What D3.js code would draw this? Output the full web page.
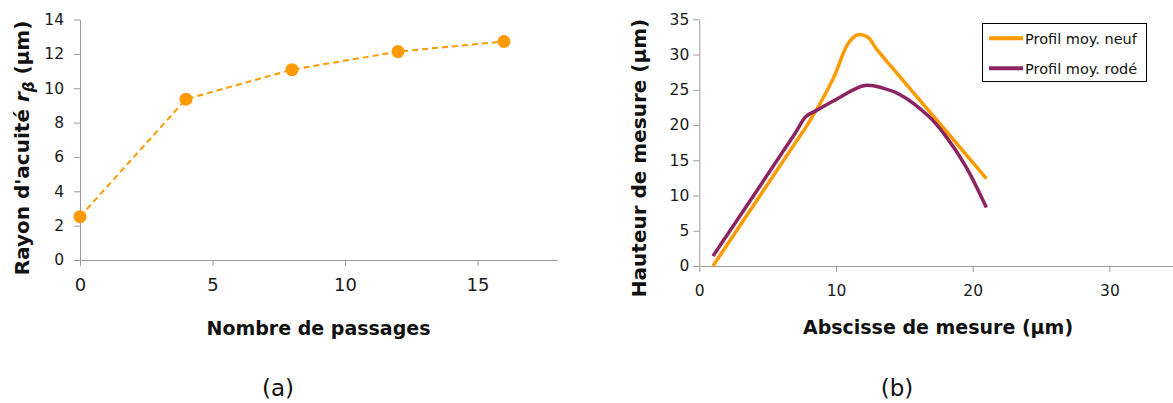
<!DOCTYPE html>
<html>
<head>
<meta charset="utf-8">
<script src="https://cdn.jsdelivr.net/npm/d3@7"></script>
<style>
  html, body { margin: 0; padding: 0; background: #fff; }
  svg { display: block; }
</style>
</head>
<body>
<svg id="chart" width="1173" height="403"></svg>
<script>
// ---- Data (a) ----
const passages = [0, 4, 8, 12, 16];
const rayon = [2.52, 9.36, 11.08, 12.13, 12.72];
const xTicksA = [0, 5, 10, 15];
const yTicksA = [0, 2, 4, 6, 8, 10, 12, 14];

// ---- Data (b) ----
const neufX = [1, 2, 7, 8, 9.8, 10.9, 11.6, 12.3, 13, 14, 17.5, 20, 21];
const neufY = [0, 2.9, 17.4, 20.3, 26.6, 31.6, 32.8, 32.5, 30.7, 28.4, 20.4, 14.7, 12.4];
const rodeX = [1, 2, 7, 7.8, 8.6, 9.8, 12.1, 13.5, 14.7, 16.8, 18, 19.5, 21];
const rodeY = [1.4, 4.3, 18.8, 21.2, 22.1, 23.4, 25.6, 25.2, 24.3, 21.2, 18.5, 14.1, 8.3];
const xTicksB = [0, 10, 20, 30];
const yTicksB = [0, 5, 10, 15, 20, 25, 30, 35];
const seriesNames = ["Profil moy. neuf", "Profil moy. rodé"];

const ORANGE = "#ff9a00";
const PURPLE = "#8c2461";
const AXIS = "#9a9a9a";
const FONT = "'DejaVu Sans', sans-serif";

const svg = d3.select("#chart");

function styleAxis(g, fs) {
  g.select(".domain").attr("stroke", AXIS).attr("stroke-width", 1);
  g.selectAll(".tick line").attr("stroke", AXIS).attr("stroke-width", 1);
  g.selectAll(".tick text").attr("font-family", FONT).attr("font-size", fs).attr("fill", "#1a1a1a");
}

// ================= Chart (a) =================
const xA = d3.scaleLinear().domain([0, 18]).range([80, 557]);
const yA = d3.scaleLinear().domain([0, 14]).range([260, 19.5]);

const gxA = svg.append("g").attr("transform", `translate(0,${yA(0)})`)
  .call(d3.axisBottom(xA).tickValues(xTicksA).tickFormat(d3.format("d")).tickSize(6).tickSizeOuter(0).tickPadding(12));
styleAxis(gxA, 18);
const gyA = svg.append("g").attr("transform", `translate(${xA(0)},0)`)
  .call(d3.axisLeft(yA).tickValues(yTicksA).tickFormat(d3.format("d")).tickSize(6).tickSizeOuter(0).tickPadding(10));
styleAxis(gyA, 15.5);

const ptsA = passages.map((p, i) => [p, rayon[i]]);
svg.append("path")
  .datum(ptsA)
  .attr("fill", "none")
  .attr("stroke", ORANGE)
  .attr("stroke-width", 2)
  .attr("stroke-dasharray", "6,4")
  .attr("d", d3.line().x(d => xA(d[0])).y(d => yA(d[1])));
svg.append("g").selectAll("circle").data(ptsA).join("circle")
  .attr("cx", d => xA(d[0])).attr("cy", d => yA(d[1])).attr("r", 6.5)
  .attr("fill", ORANGE);

svg.append("text")
  .attr("x", (xA(0) + xA(18)) / 2).attr("y", 335)
  .attr("text-anchor", "middle").attr("font-family", FONT).attr("font-weight", "bold")
  .attr("font-size", 19).attr("fill", "#111")
  .text("Nombre de passages");

const tA = svg.append("text")
  .attr("transform", `translate(28.5,148) rotate(-90)`)
  .attr("text-anchor", "middle").attr("font-family", FONT).attr("font-weight", "bold")
  .attr("font-size", 20).attr("fill", "#111");
tA.append("tspan").text("Rayon d'acuité ");
tA.append("tspan").attr("font-style", "italic").text("r");
tA.append("tspan").attr("font-style", "italic").attr("font-size", 15).attr("dy", 5).text("β");
tA.append("tspan").attr("dy", -5).text(" (μm)");

svg.append("text")
  .attr("x", 278).attr("y", 396)
  .attr("text-anchor", "middle").attr("font-family", FONT)
  .attr("font-size", 23).attr("fill", "#111")
  .text("(a)");

// ================= Chart (b) =================
const xB = d3.scaleLinear().domain([0, 35]).range([699.3, 699.3 + 35 * 13.67]);
const yB = d3.scaleLinear().domain([0, 35]).range([266, 19.3]);

const gxB = svg.append("g").attr("transform", `translate(0,${yB(0)})`)
  .call(d3.axisBottom(xB).tickValues(xTicksB).tickFormat(d3.format("d")).tickSize(6).tickSizeOuter(0).tickPadding(13));
styleAxis(gxB, 15.5);
const gyB = svg.append("g").attr("transform", `translate(${xB(0)},0)`)
  .call(d3.axisLeft(yB).tickValues(yTicksB).tickFormat(d3.format("d")).tickSize(6).tickSizeOuter(0).tickPadding(4));
styleAxis(gyB, 15.5);

const lineB = d3.line().x(d => xB(d[0])).y(d => yB(d[1])).curve(d3.curveCatmullRom.alpha(0.5));
const neuf = neufX.map((x, i) => [x, neufY[i]]);
const rode = rodeX.map((x, i) => [x, rodeY[i]]);
svg.append("path").datum(neuf).attr("fill", "none").attr("stroke", ORANGE)
  .attr("stroke-width", 3.5).attr("stroke-linejoin", "round").attr("d", lineB);
svg.append("path").datum(rode).attr("fill", "none").attr("stroke", PURPLE)
  .attr("stroke-width", 3.5).attr("stroke-linejoin", "round").attr("d", lineB);

svg.append("text")
  .attr("x", 938).attr("y", 333.5)
  .attr("text-anchor", "middle").attr("font-family", FONT).attr("font-weight", "bold")
  .attr("font-size", 19).attr("fill", "#111")
  .text("Abscisse de mesure (µm)");

svg.append("text")
  .attr("transform", `translate(646,158) rotate(-90)`)
  .attr("text-anchor", "middle").attr("font-family", FONT).attr("font-weight", "bold")
  .attr("font-size", 20).attr("fill", "#111")
  .text("Hauteur de mesure (µm)");

svg.append("text")
  .attr("x", 897).attr("y", 396)
  .attr("text-anchor", "middle").attr("font-family", FONT)
  .attr("font-size", 23).attr("fill", "#111")
  .text("(b)");

// Legend
const leg = svg.append("g");
leg.append("rect").attr("x", 982.5).attr("y", 23.5).attr("width", 164).attr("height", 58)
  .attr("fill", "#fff").attr("stroke", "#000").attr("stroke-width", 1);
const legColors = [ORANGE, PURPLE];
seriesNames.forEach((name, i) => {
  const cy = 38.3 + i * 30;
  leg.append("line").attr("x1", 989).attr("x2", 1023).attr("y1", cy).attr("y2", cy)
    .attr("stroke", legColors[i]).attr("stroke-width", 4);
  leg.append("text").attr("x", 1025).attr("y", cy + 5.3)
    .attr("font-family", FONT).attr("font-size", 14.5).attr("fill", "#111")
    .text(name);
});
</script>
</body>
</html>
